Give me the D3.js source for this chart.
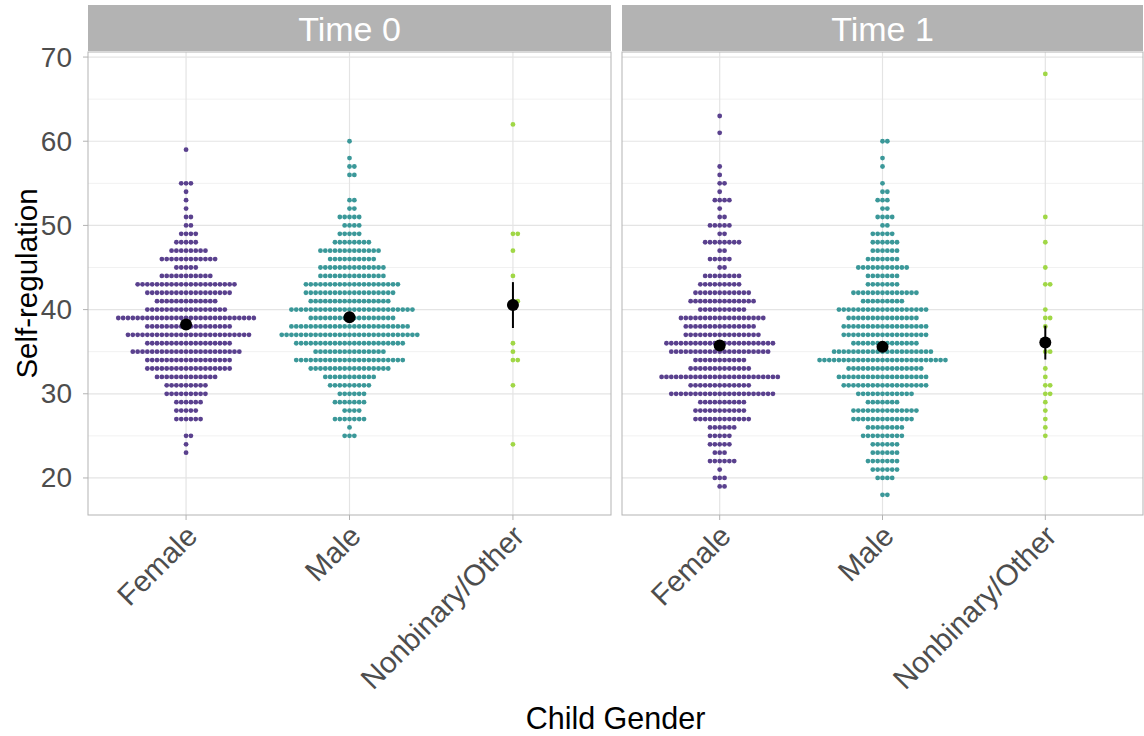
<!DOCTYPE html>
<html>
<head>
<meta charset="utf-8">
<script src="https://cdn.jsdelivr.net/npm/d3@7"></script>
<style>
  body { margin: 0; background: #fff; }
  svg { display: block; font-family: "Liberation Sans", Arial, Helvetica, sans-serif; }
</style>
</head>
<body>
<svg id="chart" width="1144" height="736"></svg>
<script>
// Facets, categories and axis ticks
const panels = ["Time 0", "Time 1"];
const genders = ["Female", "Male", "Nonbinary/Other"];
const yTicks = [20, 30, 40, 50, 60, 70];
const yMinorTicks = [25, 35, 45, 55, 65];
const genderColors = ["#5a418e", "#3b9899", "#a0d746"];

// Self-regulation score frequencies: [score, number of children]
const femaleTime0 = [[59,1],[55,3],[54,1],[53,1],[52,1],[51,2],[50,2],[49,4],[48,5],[47,8],[46,12],[45,5],[44,11],[43,21],[42,18],[41,13],[40,17],[39,29],[38,18],[37,26],[36,18],[35,23],[34,18],[33,18],[32,13],[31,9],[30,9],[29,6],[28,5],[27,6],[25,2],[24,1],[23,1]];
const maleTime0 = [[60,1],[58,1],[57,2],[56,2],[53,2],[52,2],[51,5],[50,4],[49,5],[48,8],[47,13],[46,10],[45,14],[44,14],[43,20],[42,19],[41,17],[40,26],[39,18],[38,25],[37,29],[36,23],[35,15],[34,23],[33,17],[32,11],[31,9],[30,6],[29,7],[28,4],[27,7],[26,1],[25,3]];
const otherTime0 = [[62,1],[49,2],[47,1],[44,1],[41,2],[36,1],[35,1],[34,2],[31,1],[24,1]];
const femaleTime1 = [[63,1],[61,1],[57,1],[56,1],[55,2],[54,1],[53,4],[52,1],[51,2],[50,5],[49,2],[48,8],[47,2],[46,5],[45,2],[44,8],[43,9],[42,12],[41,14],[40,10],[39,18],[38,15],[37,16],[36,23],[35,21],[34,11],[33,13],[32,25],[31,13],[30,22],[29,10],[28,11],[27,12],[26,6],[25,5],[24,5],[23,3],[22,6],[21,1],[20,3],[19,2]];
const maleTime1 = [[60,2],[58,1],[57,1],[55,1],[54,2],[53,3],[52,2],[51,4],[50,2],[49,5],[48,6],[47,6],[46,7],[45,11],[44,7],[43,7],[42,14],[41,9],[40,19],[39,15],[38,18],[37,18],[36,14],[35,21],[34,27],[33,16],[32,19],[31,18],[30,12],[29,7],[28,14],[27,13],[26,8],[25,9],[24,6],[23,6],[22,7],[21,6],[20,4],[18,2]];
const otherTime1 = [[68,1],[51,1],[48,1],[45,1],[43,2],[40,1],[39,2],[38,1],[36,1],[35,2],[33,1],[32,1],[31,2],[30,2],[29,1],[28,1],[27,1],[26,1],[25,1],[20,1]];

const groups = [
  { panel: "Time 0", gender: "Female", freq: femaleTime0 },
  { panel: "Time 0", gender: "Male", freq: maleTime0 },
  { panel: "Time 0", gender: "Nonbinary/Other", freq: otherTime0 },
  { panel: "Time 1", gender: "Female", freq: femaleTime1 },
  { panel: "Time 1", gender: "Male", freq: maleTime1 },
  { panel: "Time 1", gender: "Nonbinary/Other", freq: otherTime1 }
];

// Layout
const panelTop = 52, panelBottom = 515;
const stripTop = 5, stripBottom = 51;
const panelX = { "Time 0": [88, 611], "Time 1": [622, 1143] };
const gridMajor = "#e4e4e4", gridMinor = "#f1f1f1", borderCol = "#b3b3b3";
const axisText = "#4d4d4d";

const svg = d3.select("#chart");
const y = d3.scaleLinear().domain([15.6, 70.6]).range([panelBottom, panelTop]);
const binPx = y(0) - y(1);
const dotStep = binPx * 0.575;
const dotR = 2.4;
const color = d3.scaleOrdinal().domain(genders).range(genderColors);

panels.forEach(panel => {
  const [x0, x1] = panelX[panel];
  const x = d3.scalePoint().domain(genders).range([x0, x1]).padding(0.6);
  const g = svg.append("g");

  // strip
  g.append("rect").attr("x", x0).attr("y", stripTop)
    .attr("width", x1 - x0).attr("height", stripBottom - stripTop)
    .attr("fill", "#b3b3b3");
  g.append("text").attr("x", (x0 + x1) / 2).attr("y", (stripTop + stripBottom) / 2 + 1)
    .attr("text-anchor", "middle").attr("dominant-baseline", "central")
    .attr("fill", "#ffffff").attr("font-size", 34).text(panel);

  // grid
  g.selectAll(".ymin").data(yMinorTicks).enter().append("line")
    .attr("x1", x0).attr("x2", x1).attr("y1", d => y(d)).attr("y2", d => y(d))
    .attr("stroke", gridMinor).attr("stroke-width", 1);
  g.selectAll(".ymaj").data(yTicks).enter().append("line")
    .attr("x1", x0).attr("x2", x1).attr("y1", d => y(d)).attr("y2", d => y(d))
    .attr("stroke", gridMajor).attr("stroke-width", 1.2);
  g.selectAll(".xmaj").data(genders).enter().append("line")
    .attr("x1", d => x(d)).attr("x2", d => x(d)).attr("y1", panelTop).attr("y2", panelBottom)
    .attr("stroke", gridMajor).attr("stroke-width", 1.2);

  // dot stacks (centred, dots aligned on whole steps)
  groups.filter(gr => gr.panel === panel).forEach(gr => {
    const cx = x(gr.gender);
    const dots = [];
    gr.freq.forEach(([score, n]) => {
      const shift = Math.floor((n - 1) / 2);
      for (let a = 0; a < n; a++) dots.push({ score, k: a - shift });
    });
    g.append("g").selectAll("circle").data(dots).enter().append("circle")
      .attr("cx", d => cx + d.k * dotStep)
      .attr("cy", d => y(d.score))
      .attr("r", dotR)
      .attr("fill", color(gr.gender));

    // mean ± standard error
    const values = [];
    gr.freq.forEach(([score, n]) => { for (let i = 0; i < n; i++) values.push(score); });
    const mean = d3.mean(values);
    const se = d3.deviation(values) / Math.sqrt(values.length);
    g.append("line").attr("x1", cx).attr("x2", cx)
      .attr("y1", y(mean - se)).attr("y2", y(mean + se))
      .attr("stroke", "#000").attr("stroke-width", 2);
    g.append("circle").attr("cx", cx).attr("cy", y(mean)).attr("r", 6).attr("fill", "#000");
  });

  // border
  g.append("rect").attr("x", x0).attr("y", panelTop)
    .attr("width", x1 - x0).attr("height", panelBottom - panelTop)
    .attr("fill", "none").attr("stroke", borderCol).attr("stroke-width", 1);

  // x axis ticks and rotated labels
  g.selectAll(".xt").data(genders).enter().append("line")
    .attr("x1", d => x(d)).attr("x2", d => x(d))
    .attr("y1", panelBottom).attr("y2", panelBottom + 5)
    .attr("stroke", borderCol).attr("stroke-width", 1);
  g.selectAll(".xl").data(genders).enter().append("text")
    .attr("transform", d => `translate(${x(d) + 13},${panelBottom + 23}) rotate(-45)`)
    .attr("text-anchor", "end").attr("fill", axisText).attr("font-size", 29.5)
    .text(d => d);
});

// y axis on the left panel
const yAxisX = panelX["Time 0"][0];
svg.selectAll(".yt").data(yTicks).enter().append("line")
  .attr("x1", yAxisX - 5).attr("x2", yAxisX).attr("y1", d => y(d)).attr("y2", d => y(d))
  .attr("stroke", borderCol).attr("stroke-width", 1);
svg.selectAll(".yl").data(yTicks).enter().append("text")
  .attr("x", yAxisX - 16).attr("y", d => y(d))
  .attr("text-anchor", "end").attr("dominant-baseline", "central")
  .attr("fill", axisText).attr("font-size", 28).text(d => d);

// axis titles
svg.append("text")
  .attr("transform", `translate(26,${(panelTop + panelBottom) / 2}) rotate(-90)`)
  .attr("text-anchor", "middle").attr("dominant-baseline", "central")
  .attr("fill", "#000").attr("font-size", 29.5).text("Self-regulation");
svg.append("text")
  .attr("x", (panelX["Time 0"][0] + panelX["Time 1"][1]) / 2).attr("y", 729)
  .attr("text-anchor", "middle").attr("fill", "#000").attr("font-size", 30.5)
  .text("Child Gender");
</script>
</body>
</html>
